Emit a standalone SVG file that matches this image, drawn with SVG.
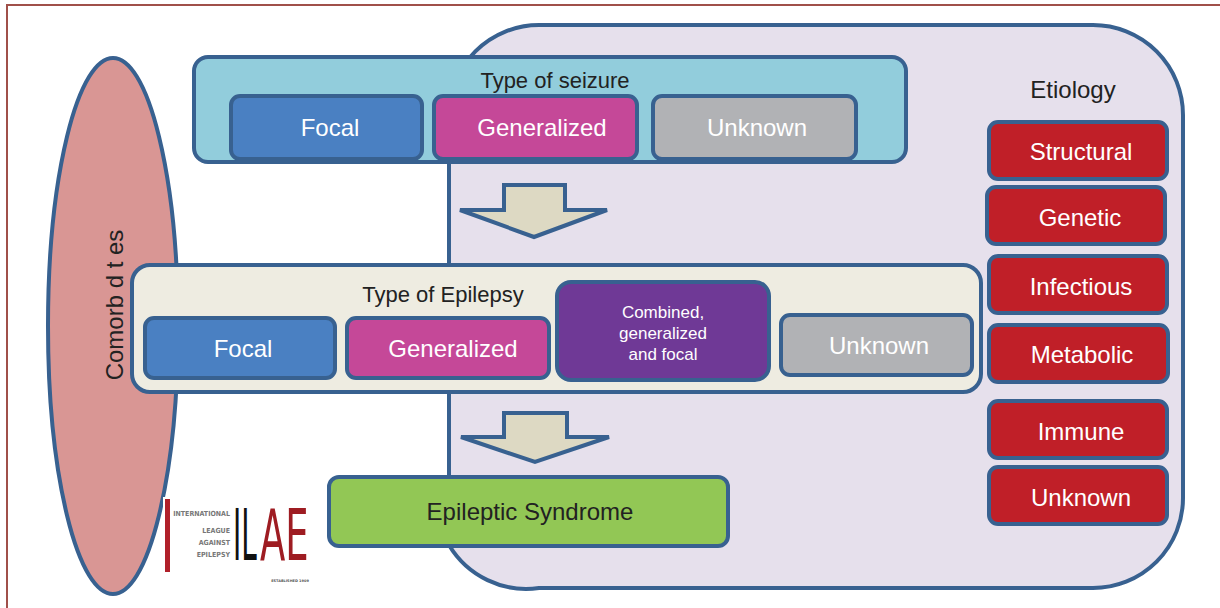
<svg xmlns="http://www.w3.org/2000/svg" width="1220" height="608" viewBox="0 0 1220 608">
<style>
.frame{stroke:#a0504a;stroke-width:2;fill:none}
.bx{stroke:#386190;stroke-width:4}
.lbl{font-family:"Liberation Sans",Arial,sans-serif;text-anchor:middle}
.w{fill:#ffffff;font-size:24px}
.d{fill:#222222}
.focal{fill:#4a80c2}
.gen{fill:#c54898}
.unk{fill:#b1b2b5}
.red{fill:#c01f28}
.arrow{fill:#ddd9c3;stroke:#386190;stroke-width:4;stroke-linejoin:miter}
.logo{font-family:"DejaVu Sans Condensed","DejaVu Sans",sans-serif;font-weight:bold;fill:#777;font-size:7px;text-anchor:end}
.big{font-family:"DejaVu Sans Condensed","DejaVu Sans",sans-serif;font-size:72px}
</style>
<rect width="1220" height="608" fill="#ffffff"/>
<path class="frame" d="M7,608 V5 H1220"/>

<g id="etiology-area">
<path class="bx" fill="#e6e0ec" d="M449,545 V115 A90,90 0 0 1 539,25 H1093 A90,90 0 0 1 1183,115 V498 A90,90 0 0 1 1093,588 H539 A90,90 0 0 1 449,545 Z"/>
</g>

<g id="comorbidities">
<ellipse class="bx" cx="113" cy="326" rx="65" ry="268" fill="#d99694"/>
<text class="lbl d" font-size="24" transform="translate(123,305) rotate(-90)">Comorb d t es</text>
</g>

<g id="type-of-seizure">
<rect class="bx" x="194" y="57" width="712" height="105" rx="14" fill="#92cddc"/>
<text class="lbl d" x="555" y="88" font-size="22">Type of seizure</text>
</g>
<g id="seizure-focal">
<rect class="bx focal" x="231" y="96" width="191" height="63" rx="9"/>
<text class="lbl w" x="330" y="136">Focal</text>
</g>
<g id="seizure-generalized">
<rect class="bx gen" x="434" y="96" width="203" height="63" rx="9"/>
<text class="lbl w" x="542" y="136">Generalized</text>
</g>
<g id="seizure-unknown">
<rect class="bx unk" x="653" y="96" width="203" height="63" rx="9"/>
<text class="lbl w" x="757" y="136">Unknown</text>
</g>

<g id="connectors">
<polygon class="arrow" points="504,185 565,185 565,210 607,210 534,237 460,210 504,210"/>
<polygon class="arrow" points="504,413 567,413 567,437 609,437 535,462 461,437 504,437"/>
</g>

<g id="type-of-epilepsy">
<rect class="bx" x="132" y="265" width="849" height="127" rx="18" fill="#eeece1"/>
<text class="lbl d" x="443" y="302" font-size="22">Type of Epilepsy</text>
</g>
<g id="epilepsy-focal">
<rect class="bx focal" x="145" y="318" width="190" height="60" rx="9"/>
<text class="lbl w" x="243" y="357">Focal</text>
</g>
<g id="epilepsy-generalized">
<rect class="bx gen" x="347" y="318" width="202" height="60" rx="9"/>
<text class="lbl w" x="453" y="357">Generalized</text>
</g>
<g id="epilepsy-combined">
<rect class="bx" x="557" y="282" width="212" height="98" rx="14" fill="#6f3996"/>
<text class="lbl" fill="#ffffff" font-size="17" x="663" y="318">Combined,</text>
<text class="lbl" fill="#ffffff" font-size="17" x="663" y="339">generalized</text>
<text class="lbl" fill="#ffffff" font-size="17" x="663" y="360">and focal</text>
</g>
<g id="epilepsy-unknown">
<rect class="bx unk" x="781" y="315" width="191" height="60" rx="9"/>
<text class="lbl w" x="879" y="354">Unknown</text>
</g>

<g id="epileptic-syndrome">
<rect class="bx" x="329" y="477" width="399" height="69" rx="10" fill="#92c755"/>
<text class="lbl d" x="530" y="520" font-size="24">Epileptic Syndrome</text>
</g>

<g id="etiology-title">
<text class="lbl d" x="1073" y="98" font-size="24">Etiology</text>
</g>
<g id="etiology-structural">
<rect class="bx red" x="989" y="122" width="178" height="57" rx="9"/>
<text class="lbl w" x="1081" y="160">Structural</text>
</g>
<g id="etiology-genetic">
<rect class="bx red" x="987" y="187" width="178" height="57" rx="9"/>
<text class="lbl w" x="1080" y="226">Genetic</text>
</g>
<g id="etiology-infectious">
<rect class="bx red" x="989" y="256" width="178" height="57" rx="9"/>
<text class="lbl w" x="1081" y="295">Infectious</text>
</g>
<g id="etiology-metabolic">
<rect class="bx red" x="989" y="325" width="179" height="57" rx="9"/>
<text class="lbl w" x="1082" y="363">Metabolic</text>
</g>
<g id="etiology-immune">
<rect class="bx red" x="989" y="401" width="178" height="57" rx="9"/>
<text class="lbl w" x="1081" y="440">Immune</text>
</g>
<g id="etiology-unknown">
<rect class="bx red" x="989" y="467" width="178" height="57" rx="9"/>
<text class="lbl w" x="1081" y="506">Unknown</text>
</g>

<g id="ilae-logo">
<rect x="163" y="497" width="157" height="87" fill="#ffffff"/>
<rect x="165" y="499" width="5" height="73" fill="#b0202a"/>
<text class="logo" x="230" y="516">INTERNATIONAL</text>
<text class="logo" x="230" y="533">LEAGUE</text>
<text class="logo" x="230" y="545">AGAINST</text>
<text class="logo" x="230" y="557">EPILEPSY</text>
<text class="big" transform="translate(233,560) scale(0.43,1)" fill="#111111">IL</text>
<text class="big" transform="translate(260,560) scale(0.57,1)" fill="#9e1c22">AE</text>
<text x="290" y="582" font-family="DejaVu Sans,sans-serif" font-size="3.5" font-weight="bold" text-anchor="middle" fill="#555555">ESTABLISHED 1909</text>
</g>
</svg>
